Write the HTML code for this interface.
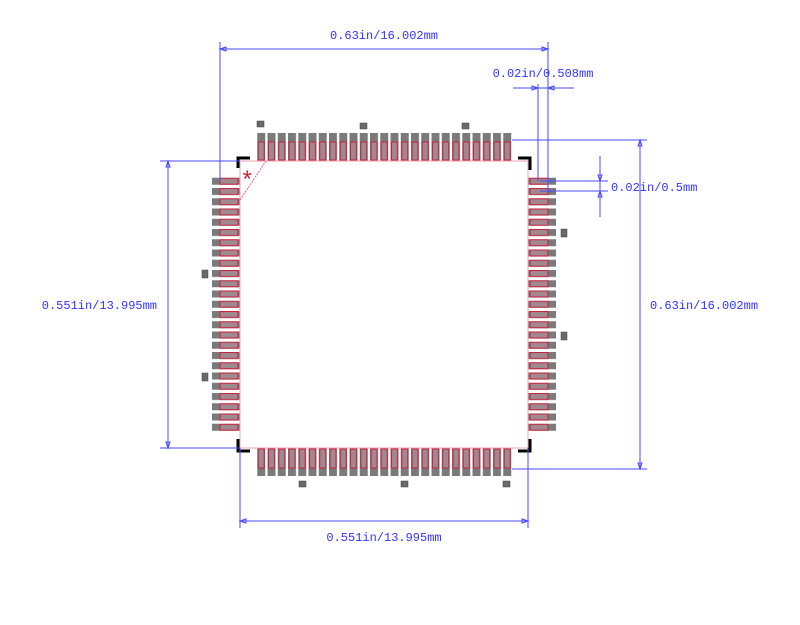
<!DOCTYPE html>
<html><head><meta charset="utf-8"><style>
html,body{margin:0;padding:0;background:#fff;width:800px;height:625px;overflow:hidden}
text{font-family:"Liberation Mono",monospace;font-size:12px;fill:#3333ff}
</style></head><body>
<svg width="800" height="625" xmlns="http://www.w3.org/2000/svg">
<defs>
<pattern id="pt" patternUnits="userSpaceOnUse" x="256.75" y="133" width="10.25" height="28">
<rect x="0.5" y="0" width="8" height="28" fill="#7a7a7a"/>
<rect x="1.5" y="9" width="6" height="18" fill="#a08890" stroke="#c8203c" stroke-width="1"/>
</pattern>
<pattern id="pb" patternUnits="userSpaceOnUse" x="256.75" y="448" width="10.25" height="28">
<rect x="0.5" y="0" width="8" height="28" fill="#7a7a7a"/>
<rect x="1.5" y="1" width="6" height="19" fill="#a08890" stroke="#c8203c" stroke-width="1"/>
</pattern>
<pattern id="pl" patternUnits="userSpaceOnUse" x="212" y="176.75" width="28" height="10.25">
<rect x="0" y="1" width="28" height="7" fill="#7a7a7a"/>
<rect x="8" y="1.5" width="18" height="6" fill="#a08890" stroke="#c8203c" stroke-width="1"/>
</pattern>
<pattern id="pr" patternUnits="userSpaceOnUse" x="528" y="176.75" width="28" height="10.25">
<rect x="0" y="1" width="28" height="7" fill="#7a7a7a"/>
<rect x="2" y="1.5" width="18" height="6" fill="#a08890" stroke="#c8203c" stroke-width="1"/>
</pattern>
</defs>
<rect x="256.75" y="133" width="256.25" height="28" fill="url(#pt)"/>
<rect x="256.75" y="448" width="256.25" height="28" fill="url(#pb)"/>
<rect x="212" y="176.75" width="28" height="256.25" fill="url(#pl)"/>
<rect x="528" y="176.75" width="28" height="256.25" fill="url(#pr)"/>
<rect x="240" y="161" width="288" height="287" fill="none" stroke="#f0a0b0" stroke-width="1"/>
<line x1="240" y1="200" x2="266" y2="161" stroke="#e06080" stroke-dasharray="2,1"/>
<text x="240" y="188" style="fill:#c8203c;font-size:24px">*</text>
<g fill="#6a6a6a" stroke="#444" stroke-width="0.5">
<rect x="257" y="121" width="7" height="6"/><rect x="360" y="123" width="7" height="6"/><rect x="462" y="123" width="7" height="6"/>
<rect x="202" y="270" width="6" height="8"/><rect x="202" y="373" width="6" height="8"/>
<rect x="561" y="229" width="6" height="8"/><rect x="561" y="332" width="6" height="8"/>
<rect x="299" y="481" width="7" height="6"/><rect x="401" y="481" width="7" height="6"/><rect x="503" y="481" width="7" height="6"/>
</g>
<g stroke="#000" stroke-width="3" fill="none">
<polyline points="238,168 238,158 250,158"/>
<polyline points="518,158 530,158 530,170"/>
<polyline points="238,439 238,451 250,451"/>
<polyline points="530,439 530,451 518,451"/>
</g>
<g stroke="#4a4aff" stroke-width="1" fill="none">
<line x1="220" y1="49" x2="548" y2="49"/>
<line x1="220" y1="42" x2="220" y2="181"/>
<line x1="548" y1="42" x2="548" y2="191"/>
<line x1="513" y1="88" x2="574" y2="88"/>
<line x1="538" y1="84" x2="538" y2="181"/>
<line x1="540" y1="181" x2="608" y2="181"/>
<line x1="540" y1="191" x2="608" y2="191"/>
<line x1="600" y1="156" x2="600" y2="217"/>
<line x1="512" y1="140" x2="647" y2="140"/>
<line x1="512" y1="469" x2="647" y2="469"/>
<line x1="640" y1="140" x2="640" y2="469"/>
<line x1="160" y1="161" x2="240" y2="161"/>
<line x1="160" y1="448" x2="240" y2="448"/>
<line x1="168" y1="161" x2="168" y2="448"/>
<line x1="240" y1="448" x2="240" y2="528"/>
<line x1="528" y1="448" x2="528" y2="528"/>
<line x1="240" y1="521" x2="528" y2="521"/>
<polygon points="220,49 226,47 226,51"/><polygon points="548,49 542,47 542,51"/>
<polygon points="538,88 532,86 532,90"/><polygon points="548,88 554,86 554,90"/>
<polygon points="600,181 598,175 602,175"/><polygon points="600,191 598,197 602,197"/>
<polygon points="640,140 638,146 642,146"/><polygon points="640,469 638,463 642,463"/>
<polygon points="168,161 166,167 170,167"/><polygon points="168,448 166,442 170,442"/>
<polygon points="240,521 246,519 246,523"/><polygon points="528,521 522,519 522,523"/>
</g>
<text x="384" y="39" text-anchor="middle">0.63in/16.002mm</text>
<text x="543" y="77" text-anchor="middle">0.02in/0.508mm</text>
<text x="611" y="191">0.02in/0.5mm</text>
<text x="650" y="309">0.63in/16.002mm</text>
<text x="157" y="309" text-anchor="end">0.551in/13.995mm</text>
<text x="384" y="541" text-anchor="middle">0.551in/13.995mm</text>
</svg>
</body></html>
